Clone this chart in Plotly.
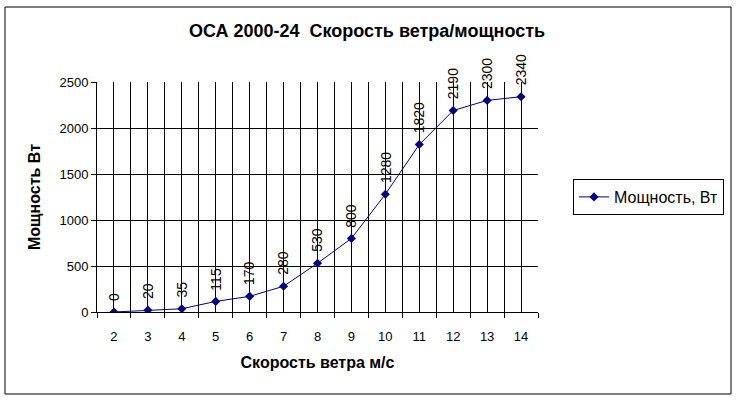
import plotly.graph_objects as go

speeds = [2, 3, 4, 5, 6, 7, 8, 9, 10, 11, 12, 13, 14]
power = [0, 20, 35, 115, 170, 280, 530, 800, 1280, 1820, 2190, 2300, 2340]
y_ticks = [0, 500, 1000, 1500, 2000, 2500]

W, H = 738, 400
L, R, T, B = 97, 200, 82, 88
pw, ph = W - L - R, H - T - B
FONT = "Liberation Sans, Arial"

fig = go.Figure()
fig.add_trace(go.Scatter(
    x=speeds, y=power, mode="lines+markers", name="Мощность, Вт",
    line=dict(color="#000080", width=1),
    marker=dict(symbol="diamond", size=7, color="#000080"),
))

for xv, yv in zip(speeds, power):
    fig.add_annotation(x=xv, y=yv, xref="x", yref="y", text=str(yv),
                       textangle=-90, showarrow=False, yanchor="bottom",
                       xanchor="center", yshift=9,
                       font=dict(family=FONT, size=14, color="black"))

# outer chart border
fig.add_shape(type="rect", xref="paper", yref="paper",
              x0=(5 - L) / pw, x1=(731 - L) / pw,
              y0=(H - B - 394) / ph, y1=(H - B - 7) / ph,
              line=dict(color="black", width=1), fillcolor="rgba(0,0,0,0)", layer="below")

fig.update_layout(
    width=W, height=H,
    margin=dict(l=L, r=R, t=T, b=B),
    paper_bgcolor="white", plot_bgcolor="white",
    font=dict(family=FONT, size=12, color="black"),
    title=dict(text="<b>ОСА 2000-24  Скорость ветра/мощность</b>", x=367 / W, xanchor="center",
               y=1 - 31 / H, yanchor="middle", font=dict(size=18)),
    showlegend=True,
    legend=dict(x=(573 - L) / pw, y=0.5, xanchor="left", yanchor="middle",
                bordercolor="black", borderwidth=1, bgcolor="white",
                font=dict(size=16), itemwidth=30),
    xaxis=dict(
        range=[1.5, 14.5], tickmode="array", tickvals=speeds, ticktext=[str(s) for s in speeds],
        showgrid=True, gridcolor="black", gridwidth=1, ticks="", showline=True,
        linecolor="black", zeroline=False, fixedrange=True, ticklabelstandoff=12,
        minor=dict(tickmode="array", tickvals=[s + 0.5 for s in [1] + speeds],
                   showgrid=True, gridcolor="black", ticks="outside", ticklen=5, tickcolor="black"),
        title=dict(text="<b>Скорость ветра м/с</b>", font=dict(size=16), standoff=14),
        tickfont=dict(size=13),
    ),
    yaxis=dict(
        range=[0, 2500], tickmode="array", tickvals=y_ticks, fixedrange=True,
        showgrid=True, gridcolor="black", gridwidth=1, ticks="outside", ticklen=5,
        tickcolor="black", showline=True, linecolor="black", zeroline=False,
        title=dict(text="<b>Мощность Вт</b>", font=dict(size=16), standoff=14),
        tickfont=dict(size=13),
    ),
)

fig.write_html("out.html", post_script="document.body.style.margin='0';",
               config={"displayModeBar": False})
